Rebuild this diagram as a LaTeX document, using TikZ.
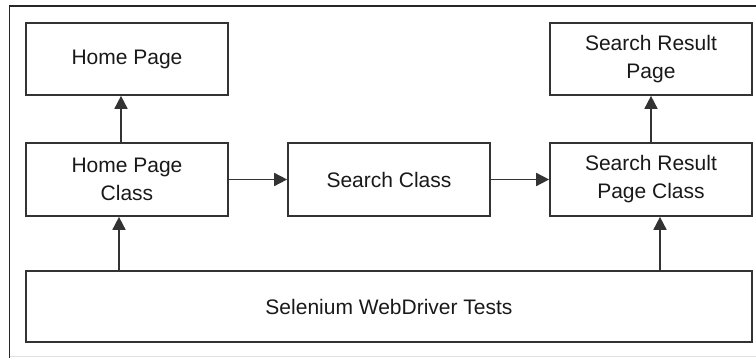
\documentclass[tikz,border=0pt]{standalone}
\usepackage{fontspec}
\setmainfont{Liberation Sans}
\usetikzlibrary{arrows.meta}

\tikzset{
  box/.style={draw=black!80, line width=1.7pt, align=center, minimum width=202pt,
    minimum height=72pt, inner sep=0pt, text=black!90, font=\fontsize{21}{28}\selectfont},
  arr/.style={draw=black!80, line width=1.7pt, -{Triangle[length=13pt,width=13pt]}}
}

\begin{document}
\begin{tikzpicture}[x=1pt,y=-1pt]
  \useasboundingbox (0,0) rectangle (756,358);
  \draw[black!85, line width=1.8pt] (9.5,358) -- (9.5,6) -- (756,6);
  \draw[black!12, line width=1pt] (9.5,357) -- (756,357);
  \node[box] (hp) at (127,59) {Home Page};
  \node[box, minimum height=73pt] (hpc) at (127,179.5) {Home Page\\Class};
  \node[box, minimum height=73pt] (search) at (389,179.5) {Search Class};
  \node[box] (srp) at (651,59) {Search Result\\Page};
  \node[box, minimum height=73pt] (srpc) at (651,179.5) {Search Result\\Page Class};
  \node[box, minimum width=726pt, minimum height=71pt] (tests) at (389,306.5) {Selenium WebDriver Tests};
  \draw[arr] ([xshift=-6pt]hpc.north) -- ([xshift=-6pt]hp.south);
  \draw[arr] ([xshift=-8pt]tests.north -| hpc) -- ([xshift=-8pt]hpc.south);
  \draw[arr] (hpc) -- (search);
  \draw[arr] (search) -- (srpc);
  \draw[arr] (srpc.north) -- (srp.south);
  \draw[arr] ([xshift=9pt]tests.north -| srpc) -- ([xshift=9pt]srpc.south);
\end{tikzpicture}
\end{document}
